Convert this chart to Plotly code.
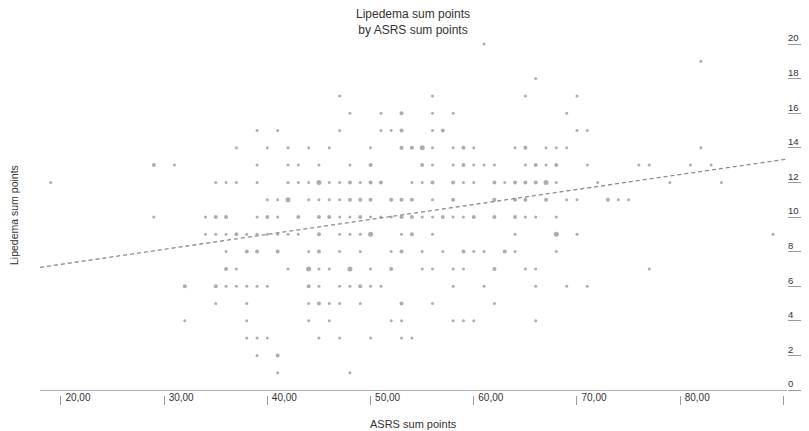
import plotly.graph_objects as go

# ---- data (ASRS sum points vs Lipedema sum points) ----
# rows: lipedema value -> list of (ASRS value, number of overlapping cases)
lip_20 = [(61, 1)]
lip_19 = [(82, 1)]
lip_18 = [(66, 1)]
lip_17 = [(47, 1), (56, 1), (65, 1), (70, 1)]
lip_16 = [(48, 1), (51, 1), (53, 2), (56, 1), (58, 1), (69, 1)]
lip_15 = [(39, 1), (41, 1), (47, 1), (51, 1), (52, 1), (53, 2), (56, 1), (57, 2), (70, 1), (71, 1)]
lip_14 = [(37, 1), (40, 1), (42, 1), (44, 1), (46, 1), (50, 1), (53, 2), (54, 2), (55, 3), (56, 1),
          (58, 1), (59, 2), (60, 1), (64, 1), (65, 2), (67, 1), (68, 1), (69, 1), (82, 1)]
lip_13 = [(29, 2), (31, 1), (39, 1), (42, 1), (43, 1), (45, 1), (48, 1), (50, 2), (55, 2), (56, 1),
          (58, 1), (59, 2), (60, 1), (61, 1), (62, 1), (65, 1), (66, 2), (67, 1), (68, 2), (71, 1),
          (76, 1), (77, 1), (81, 1), (83, 1)]
lip_12 = [(19, 1), (35, 1), (36, 1), (37, 1), (39, 1), (42, 1), (43, 1), (44, 1), (45, 3), (46, 1),
          (47, 1), (48, 2), (49, 1), (50, 2), (51, 2), (54, 1), (55, 1), (56, 2), (58, 2), (59, 1),
          (60, 1), (62, 2), (63, 1), (64, 2), (65, 2), (66, 2), (67, 3), (68, 1), (72, 1), (79, 1), (84, 1)]
lip_11 = [(40, 1), (41, 1), (42, 3), (44, 1), (45, 1), (46, 1), (47, 1), (48, 2), (49, 2), (50, 2),
          (52, 2), (53, 2), (54, 2), (56, 1), (58, 2), (62, 2), (64, 2), (65, 2), (67, 2), (69, 1),
          (70, 1), (73, 2), (74, 1), (75, 1)]
lip_10 = [(29, 1), (34, 1), (35, 2), (36, 2), (39, 1), (40, 2), (41, 1), (43, 2), (45, 2), (46, 2),
          (47, 1), (48, 1), (49, 2), (50, 1), (51, 1), (52, 1), (53, 2), (54, 2), (55, 1), (56, 1),
          (57, 2), (58, 1), (59, 1), (60, 2), (62, 2), (64, 2), (65, 1), (66, 1), (68, 1)]
lip_9 = [(34, 1), (35, 1), (36, 1), (37, 2), (38, 1), (39, 1), (40, 1), (41, 1), (42, 1), (43, 1),
         (45, 2), (47, 1), (48, 1), (49, 1), (50, 3), (53, 1), (54, 2), (56, 1), (64, 1), (68, 3),
         (70, 1), (89, 1)]
lip_8 = [(36, 1), (38, 2), (39, 2), (41, 2), (44, 1), (45, 2), (47, 1), (49, 1), (52, 1), (53, 2),
         (55, 1), (57, 1), (59, 2), (60, 1), (61, 1), (63, 2), (64, 1), (68, 1)]
lip_7 = [(36, 2), (37, 1), (42, 1), (44, 3), (45, 1), (46, 1), (48, 3), (50, 1), (52, 2), (55, 1),
         (56, 1), (58, 1), (59, 1), (62, 2), (65, 1), (66, 1), (77, 1)]
lip_6 = [(32, 2), (35, 2), (36, 1), (37, 1), (38, 1), (39, 1), (40, 1), (44, 2), (45, 1), (47, 1),
         (48, 1), (49, 2), (50, 1), (51, 1), (58, 1), (61, 1), (66, 1), (69, 1), (71, 1)]
lip_5 = [(35, 1), (38, 1), (44, 1), (45, 2), (46, 1), (47, 1), (49, 1), (53, 2), (56, 1), (62, 1)]
lip_4 = [(32, 1), (38, 1), (44, 1), (46, 1), (52, 1), (53, 1), (58, 1), (59, 1), (60, 1), (66, 1)]
lip_3 = [(38, 1), (39, 1), (40, 1), (45, 1), (47, 1), (50, 1), (53, 1), (54, 1)]
lip_2 = [(39, 1), (41, 2)]
lip_1 = [(41, 1), (48, 1)]

rows = {20: lip_20, 19: lip_19, 18: lip_18, 17: lip_17, 16: lip_16, 15: lip_15, 14: lip_14,
        13: lip_13, 12: lip_12, 11: lip_11, 10: lip_10, 9: lip_9, 8: lip_8, 7: lip_7, 6: lip_6,
        5: lip_5, 4: lip_4, 3: lip_3, 2: lip_2, 1: lip_1}

# linear fit line
fit_intercept = 5.535
fit_slope = 0.0865

x_tick_vals = [20, 30, 40, 50, 60, 70, 80, 90]
x_tick_text = ["20,00", "30,00", "40,00", "50,00", "60,00", "70,00", "80,00", ""]
y_tick_vals = [0, 2, 4, 6, 8, 10, 12, 14, 16, 18, 20]
y_tick_text = ["0", "2", "4", "6", "8", "10", "12", "14", "16", "18", "20"]

x_range = [17.97, 90.35]
y_range = [-0.289, 20.52]

# ---- build traces ----
asrs, lipe, ncase = [], [], []
for yv, pts in rows.items():
    for xv, n in pts:
        asrs.append(xv)
        lipe.append(yv)
        ncase.append(n)

size_map = {1: 3.0, 2: 4.0, 3: 5.0}
sizes = [size_map[n] for n in ncase]

fig = go.Figure()
fig.add_trace(go.Scatter(
    x=asrs, y=lipe, mode="markers",
    marker=dict(size=sizes, color="#8a8a8a", line=dict(width=0)),
    hoverinfo="x+y", showlegend=False,
))
fx = [x_range[0], x_range[1]]
fy = [fit_intercept + fit_slope * v for v in fx]
fig.add_trace(go.Scatter(
    x=fx, y=fy, mode="lines",
    line=dict(color="#8c8c8c", width=1.3, dash="4px,3px"),
    hoverinfo="skip", showlegend=False,
))

# the page body has an 8px default margin, so the figure is 8px smaller
font_family = "Liberation Sans, Arial, sans-serif"
fig.update_layout(
    width=801, height=423,
    margin=dict(l=32, r=22, t=27, b=36, autoexpand=False),
    paper_bgcolor="white", plot_bgcolor="white",
    font=dict(family=font_family, color="#333333", size=10),
    title=dict(text="Lipedema sum points<br>by ASRS sum points",
               x=405 / 801, xanchor="center", xref="container",
               y=1 - 10 / 423, yanchor="middle", yref="container",
               font=dict(size=12, color="#333333")),
    xaxis=dict(range=x_range, tickvals=x_tick_vals, ticktext=x_tick_text,
               ticks="outside", ticklen=9, tickcolor="#9a9a9a", tickwidth=1,
               ticklabelposition="outside right", ticklabelstandoff=-7,
               ticklabelshift=4,
               automargin=False,
               showgrid=False, zeroline=False, showline=False,
               tickfont=dict(size=10, color="#333333")),
    yaxis=dict(range=y_range, side="right", tickvals=y_tick_vals, ticktext=y_tick_text,
               ticks="outside", ticklen=19, tickcolor="#9a9a9a", tickwidth=1,
               ticklabelstandoff=-21, ticklabelshift=-6,
               automargin=False,
               showgrid=False, zeroline=True, zerolinecolor="#b0b0b0", zerolinewidth=1.3,
               showline=False, tickfont=dict(size=9.5, color="#333333")),
    annotations=[
        dict(text="ASRS sum points", xref="paper", yref="paper", x=0.5, y=-29 / 360,
             xanchor="center", yanchor="middle", showarrow=False,
             font=dict(size=11, color="#333333")),
        dict(text="Lipedema sum points", xref="paper", yref="paper", x=-26 / 747, y=0.5,
             xanchor="center", yanchor="middle", textangle=-90, showarrow=False,
             font=dict(size=10.5, color="#333333")),
    ],
)

fig.write_html("out.html")
